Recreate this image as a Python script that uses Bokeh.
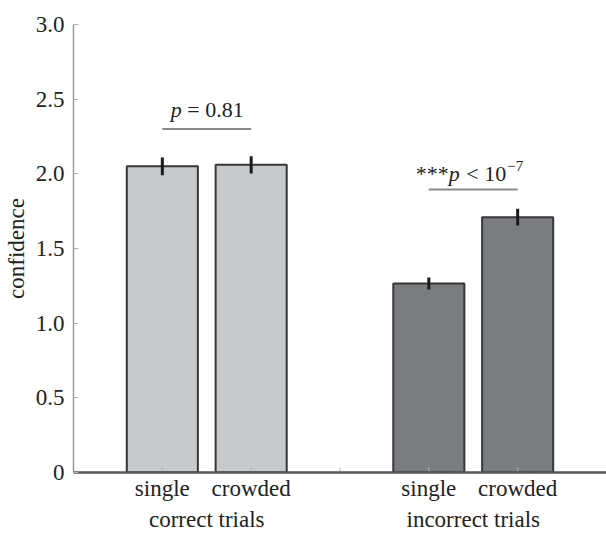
from bokeh.plotting import figure
from bokeh.models import Range1d, FixedTicker, Label
from bokeh.embed import file_html
from bokeh.resources import INLINE

# ---- data ----
conditions = ["single", "crowded", "single", "crowded"]
x_pos = [1, 2, 4, 5]
confidence = [2.05, 2.06, 1.265, 1.71]
sem = [0.06, 0.058, 0.04, 0.056]
bar_colors = ["#c8c9cb", "#c8c9cb", "#7b7c80", "#7b7c80"]
groups = ["correct trials", "incorrect trials"]
group_centers = [1.5, 4.5]
x_tick_marks = [1, 2, 3, 4, 5]
cmp_x0 = [1, 4]
cmp_x1 = [2, 5]
cmp_y = [2.30, 1.895]
cmp_text_y = [2.43, 2.005]
y_ticks = [0, 0.5, 1.0, 1.5, 2.0, 2.5, 3.0]
y_tick_labels = ["0", "0.5", "1.0", "1.5", "2.0", "2.5", "3.0"]

FONT = "'Liberation Serif', serif"
FS = "23px"
AFS = "22px"

p = figure(width=606, height=535, output_backend="svg", toolbar_location=None,
           x_range=Range1d(0, 6.0), y_range=Range1d(0, 3.0),
           min_border_left=73, min_border_right=0, min_border_top=24,
           min_border_bottom=63)
p.outline_line_color = None
p.xgrid.visible = False
p.ygrid.visible = False
p.background_fill_color = "white"
p.border_fill_color = "white"

# bars
p.vbar(x=x_pos, top=confidence, width=0.8, fill_color=bar_colors,
       line_color="#363636", line_width=2)

# error bars
lower = [c - s for c, s in zip(confidence, sem)]
upper = [c + s for c, s in zip(confidence, sem)]
p.segment(x0=x_pos, y0=lower, x1=x_pos, y1=upper, line_width=3, line_color="#1a1a1a")

# x tick marks (inward)
tick_len = 5 / (448 / 3.0)
p.segment(x0=x_tick_marks, y0=[0] * len(x_tick_marks), x1=x_tick_marks,
          y1=[tick_len] * len(x_tick_marks), line_color="#b0b0b0", line_width=1)

# comparison lines
p.segment(x0=cmp_x0, y0=cmp_y, x1=cmp_x1, y1=cmp_y, line_color="#8a8a8a", line_width=2)

# texts
def lab(text, x, y, xo, yo=0, align="left", style="normal", size=AFS):
    p.add_layout(Label(x=x, y=y, x_offset=xo, y_offset=yo, text=text,
                       text_font=FONT, text_font_size=size, text_font_style=style,
                       text_align=align, text_baseline="alphabetic",
                       text_color="#222222"))

lab("p", group_centers[0], cmp_text_y[0], -25, align="right", style="italic")
lab("= 0.81", group_centers[0], cmp_text_y[0], -19.5)

lab("***", group_centers[1], cmp_text_y[1], -24.5, align="right")
lab("p", group_centers[1], cmp_text_y[1], -24.5, style="italic")
lab("< 10", group_centers[1], cmp_text_y[1], -7)
lab("\u22127", group_centers[1], cmp_text_y[1], 34, yo=7, size="15px")

# y axis
ya = p.yaxis[0]
ya.ticker = FixedTicker(ticks=y_ticks)
ya.major_label_overrides = {t: s for t, s in zip(y_ticks, y_tick_labels)}
ya.axis_label = "confidence"
ya.axis_label_text_font = FONT
ya.axis_label_text_font_size = FS
ya.axis_label_text_font_style = "normal"
ya.axis_label_text_color = "#222222"
ya.axis_label_standoff = 4
ya.major_label_text_font = FONT
ya.major_label_text_font_size = FS
ya.major_label_text_color = "#222222"
ya.major_label_standoff = 9
ya.axis_line_color = "#9a9a9a"
ya.axis_line_width = 1.5
ya.major_tick_in = 5
ya.major_tick_out = 0
ya.major_tick_line_color = "#b0b0b0"
ya.minor_tick_line_color = None

# x axis: condition labels + group labels (second line)
xa = p.xaxis[0]
label_ticks = [1, 2, 4, 5] + group_centers
overrides = {x: c for x, c in zip(x_pos, conditions)}
for gx, gname in zip(group_centers, groups):
    overrides[gx] = "\n" + gname
xa.ticker = FixedTicker(ticks=sorted(label_ticks))
xa.major_label_overrides = overrides
xa.major_label_text_font = FONT
xa.major_label_text_font_size = FS
xa.major_label_text_color = "#222222"
xa.major_label_text_line_height = 1.25
xa.major_label_standoff = -3
xa.axis_line_color = "#555555"
xa.axis_line_width = 2.5
xa.major_tick_line_color = None
xa.minor_tick_line_color = None

open("out.html", "w").write(file_html(p, INLINE))
